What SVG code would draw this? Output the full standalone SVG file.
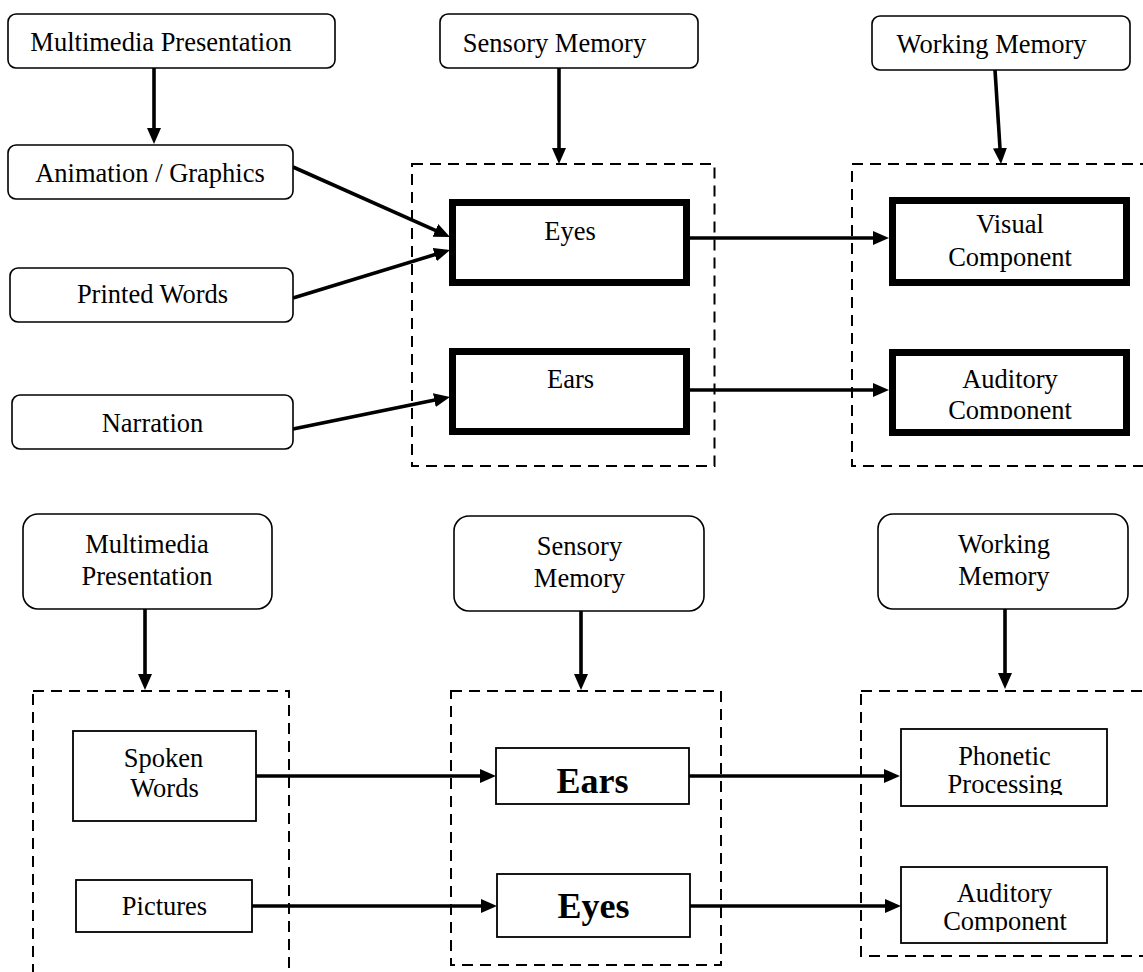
<svg xmlns="http://www.w3.org/2000/svg" width="1143" height="972" viewBox="0 0 1143 972">
<style>
text{font-family:"Liberation Serif","Times New Roman",serif;font-size:26.5px;fill:#000;text-anchor:middle}
.b{font-weight:bold;font-size:36px}
.rb{fill:#fff;stroke:#000;stroke-width:1.6}
.thick{fill:#fff;stroke:#000;stroke-width:7}
.thin{fill:#fff;stroke:#000;stroke-width:1.8}
.dash{fill:none;stroke:#000;stroke-width:2;stroke-dasharray:11 7}
.c{stroke:#000;stroke-width:3.6;fill:none;marker-end:url(#ah)}
</style>
<defs>
<marker id="ah" markerUnits="userSpaceOnUse" markerWidth="17" markerHeight="15" refX="8" refY="7" orient="auto" viewBox="0 0 17 15">
<path d="M0,0 L16,7 L0,14 z" fill="#000"/>
</marker>
<clipPath id="clipA"><rect x="880" y="340" width="260" height="79"/></clipPath>
<clipPath id="clipP"><rect x="900" y="720" width="220" height="75"/></clipPath>
<clipPath id="clipC"><rect x="900" y="860" width="220" height="72"/></clipPath>
</defs>
<rect width="1143" height="972" fill="#fff"/>

<g id="containers">
<rect id="top-sensory-container" class="dash" x="412" y="164" width="302.5" height="302"/>
<rect id="top-working-container" class="dash" x="852" y="164" width="310" height="302"/>
<rect id="bottom-presentation-container" class="dash" x="33" y="691" width="256" height="300"/>
<rect id="bottom-sensory-container" class="dash" x="451" y="691" width="270" height="274"/>
<rect id="bottom-working-container" class="dash" x="861" y="691" width="300" height="265"/>
</g>

<g id="connectors">
<line class="c" x1="154" y1="68" x2="154" y2="136"/>
<line class="c" x1="559" y1="68" x2="559" y2="156"/>
<line class="c" x1="995" y1="70" x2="1000.5" y2="156"/>
<line class="c" x1="293" y1="167" x2="442.7" y2="233.7"/>
<line class="c" x1="293" y1="298" x2="442.4" y2="252.3"/>
<line class="c" x1="293" y1="429" x2="442.2" y2="398.6"/>
<line class="c" x1="690" y1="238" x2="881" y2="238"/>
<line class="c" x1="690" y1="390" x2="881" y2="390"/>
<line class="c" x1="145" y1="609" x2="145" y2="682"/>
<line class="c" x1="581" y1="611" x2="581" y2="682"/>
<line class="c" x1="1005" y1="609" x2="1005" y2="681"/>
<line class="c" x1="256" y1="776" x2="488" y2="776"/>
<line class="c" x1="252" y1="906" x2="489" y2="906"/>
<line class="c" x1="689" y1="776" x2="892" y2="776"/>
<line class="c" x1="690" y1="906" x2="893" y2="906"/>
</g>

<g id="top-multimedia-presentation"><rect class="rb" x="8" y="14" width="327" height="54" rx="8"/><text x="161" y="51">Multimedia Presentation</text></g>
<g id="top-sensory-memory"><rect class="rb" x="440" y="14" width="258" height="54" rx="8"/><text x="554.5" y="52">Sensory Memory</text></g>
<g id="top-working-memory"><rect class="rb" x="872" y="16" width="258" height="54" rx="8"/><text x="991.5" y="53">Working Memory</text></g>
<g id="animation-graphics"><rect class="rb" x="8" y="145" width="285" height="54" rx="8"/><text x="150" y="182">Animation / Graphics</text></g>
<g id="printed-words"><rect class="rb" x="10" y="268" width="283" height="54" rx="8"/><text x="152.5" y="303">Printed Words</text></g>
<g id="narration"><rect class="rb" x="12" y="395" width="281" height="54" rx="8"/><text x="152.5" y="432">Narration</text></g>
<g id="top-eyes"><rect class="thick" x="452.5" y="202.5" width="234" height="80"/><text x="570" y="240">Eyes</text></g>
<g id="top-ears"><rect class="thick" x="452.5" y="351.5" width="234" height="80"/><text x="570.5" y="388">Ears</text></g>
<g id="visual-component"><rect class="thick" x="892.5" y="200.5" width="234" height="82"/><text x="1010" y="233">Visual</text><text x="1010" y="266">Component</text></g>
<g id="top-auditory-component"><rect class="thick" x="892.5" y="352.5" width="234" height="80"/><text x="1010" y="388">Auditory</text><text x="1010" y="419" clip-path="url(#clipA)">Component</text></g>

<g id="bottom-multimedia-presentation"><rect class="rb" x="23" y="514" width="249" height="95" rx="15"/><text x="147" y="553">Multimedia</text><text x="147" y="585">Presentation</text></g>
<g id="bottom-sensory-memory"><rect class="rb" x="454" y="516" width="250" height="95" rx="15"/><text x="579.5" y="555">Sensory</text><text x="579.5" y="587">Memory</text></g>
<g id="bottom-working-memory"><rect class="rb" x="878" y="514" width="250" height="95" rx="15"/><text x="1004" y="553">Working</text><text x="1004" y="585">Memory</text></g>
<g id="spoken-words"><rect class="thin" x="73" y="731" width="183" height="90"/><text x="163.5" y="767">Spoken</text><text x="164.5" y="797">Words</text></g>
<g id="pictures"><rect class="thin" x="76" y="880" width="176" height="52"/><text x="164.5" y="915">Pictures</text></g>
<g id="bottom-ears"><rect class="thin" x="496" y="748" width="193" height="56"/><text class="b" x="592.5" y="793">Ears</text></g>
<g id="bottom-eyes"><rect class="thin" x="497" y="874" width="193" height="63"/><text class="b" x="593.5" y="918">Eyes</text></g>
<g id="phonetic-processing"><rect class="thin" x="901" y="729" width="206" height="77"/><text x="1004.5" y="765">Phonetic</text><text x="1005" y="793" clip-path="url(#clipP)">Processing</text></g>
<g id="bottom-auditory-component"><rect class="thin" x="901" y="867" width="206" height="76"/><text x="1004.5" y="902">Auditory</text><text x="1005" y="930" clip-path="url(#clipC)">Component</text></g>
</svg>
